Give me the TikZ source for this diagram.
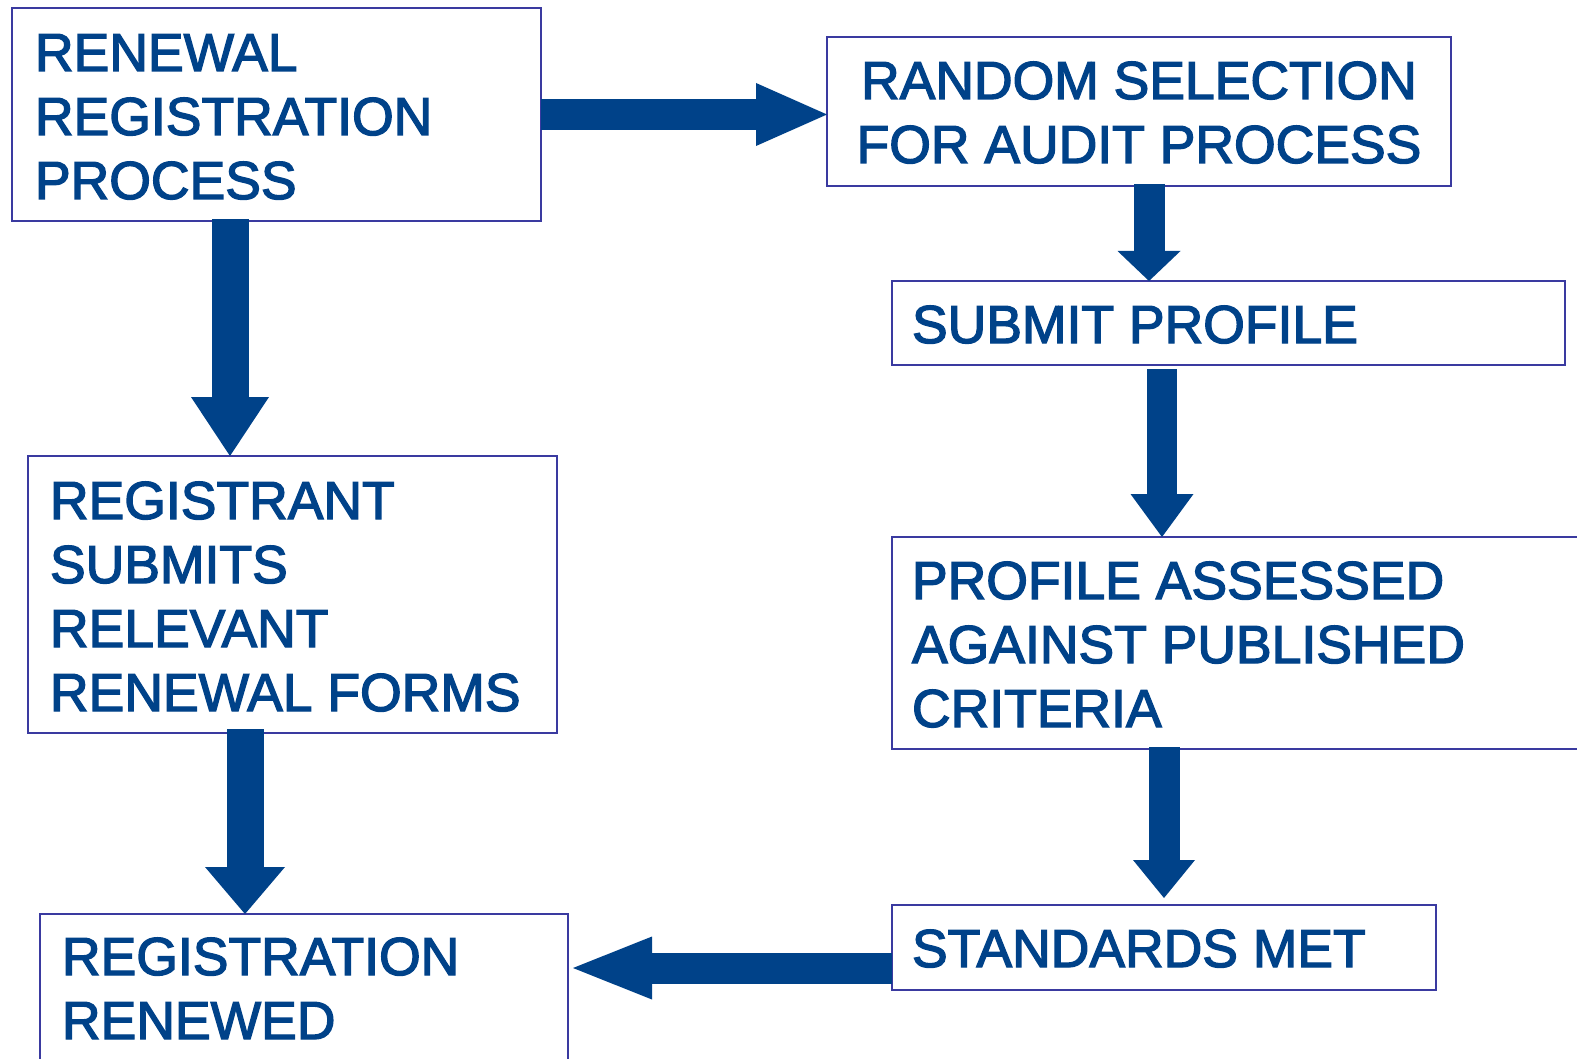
\documentclass[tikz,border=0pt]{standalone}
\usepackage{fontspec}
\setmainfont{Liberation Sans}
\newfontfamily\stagefont{Liberation Sans}[FakeBold=2.5]
\usetikzlibrary{arrows.meta}
\definecolor{flowblue}{RGB}{0,66,137}
\definecolor{boxedge}{RGB}{58,58,160}
\begin{document}
\begin{tikzpicture}[x=1pt,y=-1pt,
  stagebox/.style={draw=boxedge,line width=2pt,fill=none,rectangle,
    anchor=north west,inner sep=0pt,outer sep=0pt},
  steptext/.style={text=flowblue,font=\stagefont\fontsize{53.5}{64}\selectfont,
    inner sep=0pt,outer sep=0pt},
  fatarrow/.style={draw=flowblue,line cap=butt}]
\clip (0,0) rectangle (1577,1059);
\fill[white] (0,0) rectangle (1577,1059);

% process boxes
\node[stagebox,minimum width=529pt,minimum height=213pt] (b1) at (12,8) {};
\node[stagebox,minimum width=624pt,minimum height=149pt] (b2) at (827,37) {};
\node[stagebox,minimum width=673pt,minimum height=84pt]  (b3) at (892,281) {};
\node[stagebox,minimum width=700pt,minimum height=212pt] (b4) at (892,537) {};
\node[stagebox,minimum width=544pt,minimum height=85pt]  (b5) at (892,905) {};
\node[stagebox,minimum width=528pt,minimum height=170pt] (b6) at (40,914) {};
\node[stagebox,minimum width=529pt,minimum height=277pt] (b7) at (28,456) {};

% box texts
\node[steptext,anchor=base west] (t1a) at (35,71)  {RENEWAL};
\node[steptext,anchor=base west] (t1b) at (35,135) {REGISTRATION};
\node[steptext,anchor=base west] (t1c) at (35,199) {PROCESS};

\node[steptext,anchor=base] (t2a) at (1139,99)  {RANDOM SELECTION};
\node[steptext,anchor=base] (t2b) at (1139,163) {FOR AUDIT PROCESS};

\node[steptext,anchor=base west] (t3a) at (912,343) {SUBMIT PROFILE};

\node[steptext,anchor=base west] (t4a) at (912,599) {PROFILE ASSESSED};
\node[steptext,anchor=base west] (t4b) at (912,663) {AGAINST PUBLISHED};
\node[steptext,anchor=base west] (t4c) at (912,727) {CRITERIA};

\node[steptext,anchor=base west] (t5a) at (912,967) {STANDARDS MET};

\node[steptext,anchor=base west] (t6a) at (62,975)  {REGISTRATION};
\node[steptext,anchor=base west] (t6b) at (62,1039) {RENEWED};

\node[steptext,anchor=base west] (t7a) at (50,519) {REGISTRANT};
\node[steptext,anchor=base west] (t7b) at (50,583) {SUBMITS};
\node[steptext,anchor=base west] (t7c) at (50,647) {RELEVANT};
\node[steptext,anchor=base west] (t7d) at (50,711) {RENEWAL FORMS};

% block arrows between the stages
\draw[fatarrow,line width=31pt,
  -{Triangle[width=63pt,length=71pt,line width=0pt]}]
  (b1.east) -- (b1.east -| b2.west);
\draw[fatarrow,line width=37pt,
  -{Triangle[width=78pt,length=59pt,line width=0pt]}]
  ([xshift=218pt,yshift=2pt]b1.south west) -- ([xshift=202pt]b7.north west);
\draw[fatarrow,line width=31pt,
  -{Triangle[width=63pt,length=30pt,line width=0pt]}]
  ([xshift=322pt,yshift=2pt]b2.south west) -- ([xshift=257pt]b3.north west);
\draw[fatarrow,line width=30pt,
  -{Triangle[width=63pt,length=43pt,line width=0pt]}]
  ([xshift=270pt,yshift=-4pt]b3.south west) -- ([xshift=270pt]b4.north west);
\draw[fatarrow,line width=31pt,
  -{Triangle[width=62pt,length=38pt,line width=0pt]}]
  ([xshift=272pt,yshift=2pt]b4.south west) -- ([xshift=272pt,yshift=7pt]b5.north west);
\draw[fatarrow,line width=37pt,
  -{Triangle[width=80pt,length=47pt,line width=0pt]}]
  ([xshift=217pt,yshift=4pt]b7.south west) -- ([xshift=205pt]b6.north west);
\coordinate (a7s) at ([yshift=22pt]b5.south west);
\draw[fatarrow,line width=31pt,
  -{Triangle[width=63pt,length=79pt,line width=0pt]}]
  (a7s) -- ([xshift=5pt]a7s -| b6.east);
\end{tikzpicture}
\end{document}
